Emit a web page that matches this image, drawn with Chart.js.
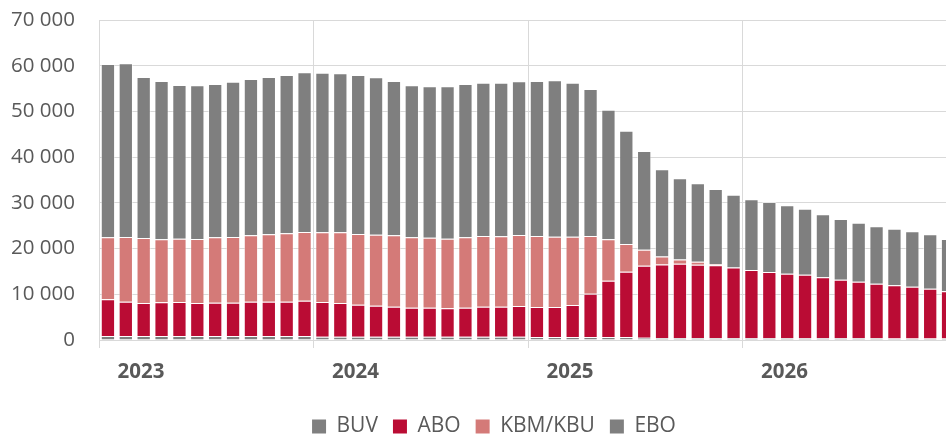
<!DOCTYPE html>
<html>
<head>
<meta charset="utf-8">
<script src="https://cdn.jsdelivr.net/npm/chart.js@4/dist/chart.umd.min.js"></script>
<style>
  html, body { margin: 0; padding: 0; background: #ffffff; overflow: hidden; }
  #wrap { width: 988px; height: 435px; }
</style>
</head>
<body>
<div id="wrap"><canvas id="c" width="988" height="435"></canvas></div>
<script>
// Categories: monthly, Jan 2023 – Dec 2026
const months = [];
for (let y = 2023; y <= 2026; y++) {
  for (let m = 1; m <= 12; m++) months.push(y + '-' + String(m).padStart(2, '0'));
}

const seriesNames = ['BUV', 'ABO', 'KBM/KBU', 'EBO'];

const buv = [900, 880, 850, 850, 850, 850, 850, 850, 850, 850, 850, 850,
             700, 700, 700, 700, 700, 700, 700, 700, 700, 700, 700, 700,
             650, 650, 650, 650, 650, 650, 500, 450, 450, 450, 450, 450,
             400, 400, 400, 400, 400, 400, 400, 400, 350, 350, 350, 350];

const abo = [8000, 7500, 7240, 7390, 7460, 7240, 7320, 7320, 7530, 7530, 7530, 7750,
             7610, 7390, 7030, 6810, 6590, 6370, 6370, 6230, 6370, 6590, 6590, 6740,
             6570, 6570, 7010, 9480, 12330, 14300, 15760, 16070, 16250, 16030, 15880, 15420,
             14910, 14480, 14110, 13890, 13310, 12800, 12360, 11920, 11610, 11320, 10880, 10300];

const kbm = [13560, 14150, 14220, 13780, 13860, 14000, 14290, 14360, 14520, 14730, 14950, 15020,
             15240, 15460, 15460, 15530, 15610, 15390, 15310, 15240, 15390, 15460, 15390, 15530,
             15530, 15380, 14940, 12620, 9040, 6050, 3470, 1750, 910, 620, 260, 0,
             0, 0, 0, 0, 0, 0, 0, 0, 0, 0, 0, 0];

const ebo = [37920, 37990, 35220, 34630, 33610, 33620, 33540, 33980, 34190, 34420, 34640, 34930,
             34930, 34780, 34780, 34420, 33760, 33250, 33110, 33320, 33540, 33540, 33610, 33610,
             33910, 34200, 33690, 32160, 28360, 24790, 21610, 19060, 17750, 17170, 16440, 15920,
             15460, 15310, 14950, 14440, 13780, 13270, 12910, 12550, 12390, 12100, 11880, 11440];

const yTicks = [0, 10000, 20000, 30000, 40000, 50000, 60000, 70000];

const colors = ['#7f7f7f', '#ba0c34', '#d47a78', '#7f7f7f'];
const values = [buv, abo, kbm, ebo];

const textColor = '#595959';
const gridColor = '#d9d9d9';
const fontFamily = '"Open Sans", "Liberation Sans", sans-serif';

const fmt = v => String(v).replace(/\B(?=(\d{3})+(?!\d))/g, ' ');
const isYearStart = i => typeof months[i] === 'string' && months[i].endsWith('-01');

// shift the legend down a little after layout (legend box keeps its own size)
const legendShift = {
  id: 'legendShift',
  afterLayout(chart) {
    const lg = chart.legend;
    if (!lg) return;
    const d = 12;
    lg.top += d; lg.bottom += d;
    if (lg.legendHitBoxes) lg.legendHitBoxes.forEach(h => { h.top += d; });
  }
};

new Chart(document.getElementById('c'), {
  type: 'bar',
  data: {
    labels: months,
    datasets: seriesNames.map((name, i) => ({
      label: name,
      data: values[i],
      backgroundColor: colors[i],
      borderColor: 'rgba(255,255,255,0.45)',
      borderWidth: 1,
      stack: 's',
      barPercentage: 0.8,
      categoryPercentage: 1.0,
      yAxisID: 'y'
    }))
  },
  plugins: [legendShift],
  options: {
    responsive: false,
    animation: false,
    devicePixelRatio: 1,
    layout: { padding: { top: 20, bottom: 0, left: 0, right: 0 } },
    plugins: {
      tooltip: { enabled: false },
      legend: {
        position: 'bottom',
        labels: {
          color: textColor,
          font: { family: fontFamily, size: 21 },
          boxWidth: 14,
          boxHeight: 14,
          padding: 15,
          generateLabels(chart) {
            const items = Chart.defaults.plugins.legend.labels.generateLabels(chart);
            items.forEach(it => { it.lineWidth = 0; it.strokeStyle = 'rgba(0,0,0,0)'; });
            return items;
          }
        }
      }
    },
    scales: {
      x: {
        stacked: true,
        offset: true,
        grid: {
          offset: true,
          color: ctx => isYearStart(ctx.index) ? gridColor : 'rgba(0,0,0,0)',
          lineWidth: 1,
          tickLength: 8,
          drawOnChartArea: true
        },
        border: { display: true, color: gridColor, width: 1 },
        ticks: {
          autoSkip: false,
          maxRotation: 0,
          minRotation: 0,
          labelOffset: 33,
          padding: 12,
          color: textColor,
          font: { family: fontFamily, size: 20.5, weight: 'bold' },
          callback(value) {
            const lab = this.getLabelForValue(value);
            return lab.endsWith('-01') ? lab.slice(0, 4) : '';
          }
        },
        afterFit(scale) { scale.height = 49; }
      },
      y: {
        stacked: true,
        min: yTicks[0],
        max: yTicks[yTicks.length - 1],
        afterBuildTicks(scale) { scale.ticks = yTicks.map(v => ({ value: v })); },
        grid: { color: gridColor, lineWidth: 1, drawTicks: true, tickLength: 24, tickColor: 'rgba(0,0,0,0)' },
        border: { display: false },
        ticks: {
          padding: 0,
          color: textColor,
          font: { family: fontFamily, size: 20.5 },
          callback: v => fmt(v)
        },
        afterFit(scale) { scale.width = 99; }
      },
      yR: {
        position: 'right',
        display: true,
        grid: { display: false },
        border: { display: false },
        ticks: { display: false, padding: 0 },
        afterFit(scale) { scale.width = 31; }
      }
    }
  }
});
</script>
</body>
</html>
